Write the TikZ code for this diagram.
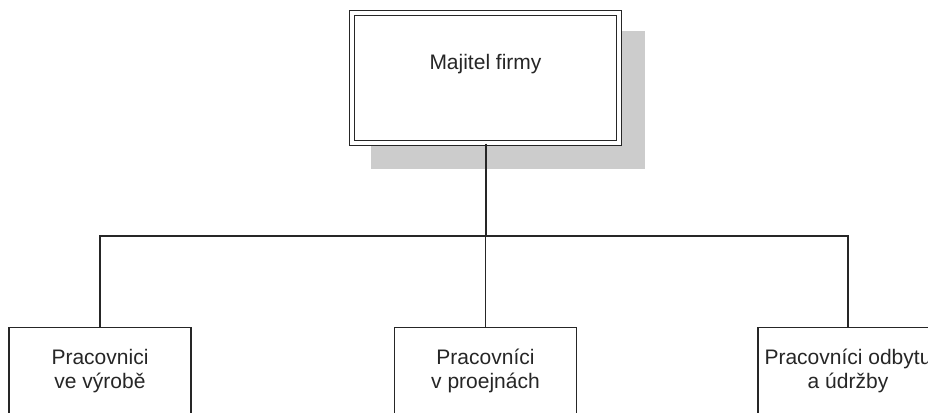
\documentclass[tikz,border=0pt]{standalone}
\usepackage{fontspec}
\setmainfont{Liberation Sans}
\usetikzlibrary{backgrounds}
\definecolor{linec}{HTML}{262626}
\definecolor{shadowc}{HTML}{CCCCCC}
\begin{document}
\begin{tikzpicture}[x=1pt,y=-1pt,
  every node/.style={font=\fontsize{21}{24}\selectfont, text=linec},
  topbox/.style={draw=linec, double=white, double distance=3.6pt, line width=1.2pt,
    minimum width=267pt, minimum height=130pt, inner sep=0pt, fill=white},
  unitbox/.style={draw=linec, line width=1.4pt, fill=white, align=center,
    minimum width=182pt, minimum height=86pt, inner sep=0pt, anchor=north},
  conn/.style={draw=linec, line width=1.4pt}]
\useasboundingbox (0,0) rectangle (928,412);
\clip (0,0) rectangle (928,412);
\node[topbox] (top) at (485.5,78) {};
\node (toplabel) at (485.5,64) {Majitel firmy};
\node[unitbox] (b1) at (100,327) {Pracovnici\\ve výrobě};
\node[unitbox] (b2) at (485.5,327) {Pracovníci\\v proejnách};
\node[unitbox, minimum width=180pt] (b3) at (848,327) {Pracovníci odbytu\\a údržby};
\coordinate (hub) at (485.5,236);
\begin{pgfonlayer}{background}
  \fill[shadowc] (371,31) rectangle (645,169);
\end{pgfonlayer}
\draw[conn, line width=2pt] (top.south) -- (hub);
\draw[conn] (b1.north) |- (hub) -| (b3.north);
\draw[conn] (hub) -- (b2.north);
\end{tikzpicture}
\end{document}
